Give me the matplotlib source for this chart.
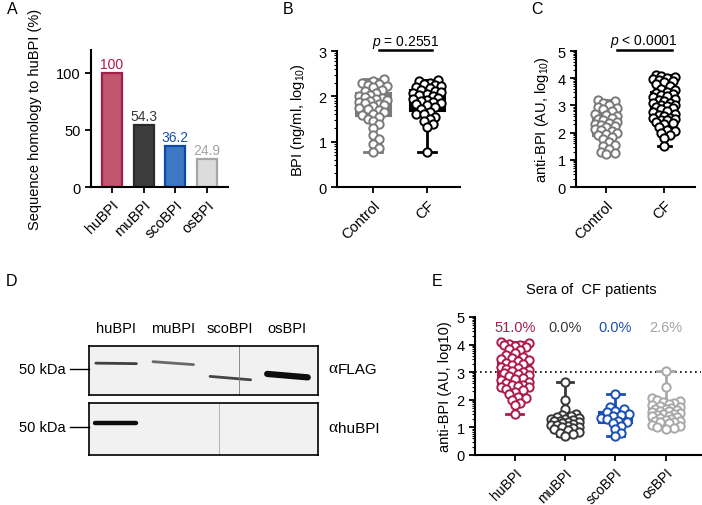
import numpy as np
import matplotlib
matplotlib.use('Agg')
import matplotlib.pyplot as plt
from matplotlib.ticker import FixedLocator

plt.rcParams['font.family'] = ['Liberation Sans', 'DejaVu Sans']
plt.rcParams['font.size'] = 10
plt.rcParams['mathtext.fontset'] = 'custom'
plt.rcParams['mathtext.rm'] = 'Liberation Sans'
plt.rcParams['mathtext.it'] = 'Liberation Sans:italic'

# ---- data ----
bpi_names = ['huBPI', 'muBPI', 'scoBPI', 'osBPI']
homology = [100, 54.3, 36.2, 24.9]

groups_bc = ['Control', 'CF']
bpi_control = [2.38, 2.33, 2.3, 2.27, 2.25, 2.22, 2.2, 2.15, 2.12, 2.08, 2.03, 2.0, 1.98,
               1.96, 1.94, 1.92, 1.9, 1.88, 1.85, 1.82, 1.8, 1.78, 1.75, 1.72, 1.7, 1.65,
               1.62, 1.58, 1.55, 1.5, 1.45, 1.4, 1.3, 1.15, 1.05, 0.95, 0.85, 0.78]
bpi_cf = [2.37, 2.33, 2.3, 2.28, 2.25, 2.22, 2.2, 2.18, 2.15, 2.12, 2.1, 2.08, 2.05,
          2.02, 2.0, 1.97, 1.95, 1.92, 1.9, 1.88, 1.85, 1.82, 1.8, 1.76, 1.72, 1.66,
          1.62, 1.6, 1.55, 1.5, 1.45, 1.38, 1.32, 0.78]
p_b = '= 0.2551'

anti_control = [3.2, 3.15, 3.1, 3.0, 2.95, 2.9, 2.85, 2.8, 2.7, 2.65, 2.6, 2.55, 2.5,
                2.45, 2.4, 2.35, 2.3, 2.28, 2.25, 2.2, 2.15, 2.1, 2.05, 2.0, 1.95, 1.9,
                1.85, 1.75, 1.65, 1.55, 1.5, 1.4, 1.3, 1.25, 1.2]
anti_cf = [4.1, 4.07, 4.03, 4.0, 3.98, 3.95, 3.9, 3.85, 3.8, 3.7, 3.62, 3.55,
           3.5, 3.47, 3.43, 3.4, 3.35, 3.3, 3.25, 3.2, 3.15, 3.1, 3.07, 3.03, 3.01,
           2.98, 2.95, 2.9, 2.85, 2.8, 2.75, 2.7, 2.65, 2.6, 2.55, 2.52, 2.5, 2.48,
           2.45, 2.4, 2.35, 2.3, 2.2, 2.1, 2.05, 2.0, 1.9, 1.8, 1.5]
p_c = '< 0.0001'

# panel E: sera of CF patients against each BPI
e_hu = anti_cf
e_mu = [2.65, 2.0, 1.65, 1.5, 1.45, 1.4, 1.38, 1.35, 1.32, 1.3, 1.28, 1.25, 1.22, 1.2,
        1.18, 1.15, 1.13, 1.1, 1.08, 1.05, 1.03, 1.0, 0.98, 0.95, 0.9, 0.85, 0.8, 0.75, 0.7]
e_sco = [2.2, 1.75, 1.65, 1.6, 1.55, 1.5, 1.45, 1.4, 1.35, 1.3, 1.25, 1.2, 1.15, 1.05,
         0.95, 0.8, 0.7]
e_os = [3.05, 2.45, 2.05, 2.0, 1.95, 1.92, 1.9, 1.85, 1.8, 1.78, 1.75, 1.7, 1.68, 1.65,
        1.62, 1.6, 1.58, 1.55, 1.52, 1.5, 1.48, 1.45, 1.42, 1.4, 1.38, 1.35, 1.3, 1.28,
        1.25, 1.22, 1.2, 1.18, 1.15, 1.1, 1.05, 1.0, 0.98, 0.95]
cutoff = 3

# panel D: western blot bands (depth from top of blot, 0..1)
flag_band_depth = [0.35, 0.32, 0.62, 0.57]
flag_band_drop = [0.01, 0.06, 0.07, 0.07]
flag_band_dark = [0.78, 0.6, 0.75, 1.0]
hubpi_band_depth = [0.38, None, None, None]
hubpi_band_dark = [1.0, 0, 0, 0]

# ---- style ----
col_hu = '#ad1a4d'
col_mu = '#383838'
col_sco = '#1a4fb5'
col_os = '#a8a8a8'
bar_fill = ['#c2566f', '#3c3c3c', '#3d78c2', '#dcdcdc']
bar_edge = ['#a51e4a', '#2b2b2b', '#0d4aa8', '#a6a6a6']
txt_col = [col_hu, col_mu, col_sco, '#a3a3a3']
e_col = [col_hu, col_mu, col_sco, col_os]

W, H = 702, 506
fig = plt.figure(figsize=(W / 100, H / 100), dpi=100)


def px_axes(x0, y0, x1, y1):
    return fig.add_axes([x0 / W, 1 - y1 / H, (x1 - x0) / W, (y1 - y0) / H])


def style(ax, log_minor=None):
    for s in ['top', 'right']:
        ax.spines[s].set_visible(False)
    for s in ['left', 'bottom']:
        ax.spines[s].set_linewidth(1.5)
    ax.tick_params(direction='out', length=4, width=1.3, labelsize=10.5)
    if log_minor:
        minors = [n + np.log10(k) for n in range(log_minor) for k in range(2, 10)]
        ax.yaxis.set_minor_locator(FixedLocator(minors))
        ax.tick_params(axis='y', which='minor', length=2, width=0.8)


def swarm_offsets(vals, xs, ys, diam, half_w):
    # spread points sideways (in pixels) so they overlap only partly
    vals = np.asarray(vals)
    offs = np.zeros(len(vals))
    placed = []
    step = diam * 0.33
    cands = [0.0]
    k = 1
    while k * step <= half_w:
        cands += [k * step, -k * step]
        k += 1
    for i in np.argsort(vals):
        y = vals[i] * ys
        best, best_d = 0.0, -1
        for c in cands:
            d = min([np.hypot(c - px, y - py) for px, py in placed], default=1e9)
            if d >= diam * 0.7:
                best = c
                break
            if d > best_d:
                best, best_d = c, d
        placed.append((best, y))
        offs[i] = best / xs
    return offs


def box_scatter(ax, pos, vals, color, width, xs, ys):
    ax.boxplot([vals], positions=[pos], widths=width, whis=(0, 100), patch_artist=True,
               showfliers=False, capwidths=width * 0.5, manage_ticks=False,
               boxprops=dict(facecolor=color, edgecolor=color, lw=1.5),
               whiskerprops=dict(color=color, lw=2),
               capprops=dict(color=color, lw=2),
               medianprops=dict(color=color, lw=1.5))
    offs = swarm_offsets(vals, xs, ys, 8.5, width * xs / 2 - 1)
    ax.scatter(pos + offs, vals, s=36, facecolor='white', edgecolor=color,
               linewidth=1.4, zorder=3, clip_on=False)


def rot_labels(ax, labels, size=10.5):
    ax.set_xticks(range(len(labels)))
    ax.set_xticklabels(labels, rotation=45, ha='right', rotation_mode='anchor',
                       fontsize=size)


# ---- A ----
axA = px_axes(91, 51, 228, 188)
x = np.arange(len(bpi_names))
axA.bar(x, homology, width=0.63, color=bar_fill, edgecolor=bar_edge, linewidth=1.6)
for i, v in enumerate(homology):
    axA.text(i, v + 1.5, f'{v:g}', ha='center', va='bottom', color=txt_col[i], fontsize=10)
axA.set_ylim(0, 120)
axA.set_xlim(-0.66, 3.66)
axA.set_yticks([0, 50, 100])
style(axA)
rot_labels(axA, bpi_names)
axA.set_ylabel('Sequence homology to huBPI (%)', fontsize=10.5)
axA.yaxis.set_label_coords(-0.36, 0.5)

# ---- B ----
axB = px_axes(337, 52, 460, 188)
box_scatter(axB, 0, bpi_control, '#7a7a7a', 0.65, 54, 45.3)
box_scatter(axB, 1, bpi_cf, 'black', 0.65, 54, 45.3)
axB.set_ylim(0, 3)
axB.set_xlim(-0.67, 1.61)
axB.set_yticks([0, 1, 2, 3])
style(axB, log_minor=3)
rot_labels(axB, groups_bc)
axB.set_ylabel('BPI (ng/ml, log$_{10}$)', fontsize=10.5)
axB.yaxis.set_label_coords(-0.24, 0.5)
axB.plot([0.1, 1.1], [3.02, 3.02], color='black', lw=1.8, clip_on=False)
axB.text(0.6, 3.22, r'$\it{p}$ ' + p_b, ha='center', va='center', fontsize=10)

# ---- C ----
axC = px_axes(576, 52, 695, 188)
box_scatter(axC, 0, anti_control, '#7a7a7a', 0.45, 58, 27.2)
box_scatter(axC, 1, anti_cf, 'black', 0.45, 58, 27.2)
axC.set_ylim(0, 5)
axC.set_xlim(-0.52, 1.53)
axC.set_yticks(range(6))
style(axC, log_minor=5)
rot_labels(axC, groups_bc)
axC.set_ylabel('anti-BPI (AU, log$_{10}$)', fontsize=10.5)
axC.yaxis.set_label_coords(-0.21, 0.5)
axC.plot([0.18, 1.13], [5.04, 5.04], color='black', lw=1.8, clip_on=False)
axC.text(0.65, 5.37, r'$\it{p}$ ' + p_c, ha='center', va='center', fontsize=10)

# ---- D ----
blot_top = px_axes(89, 347, 318, 396)
blot_bot = px_axes(89, 404, 318, 456)
for ax in (blot_top, blot_bot):
    ax.set_xlim(-0.47, 3.54)
    ax.set_ylim(1, 0)
    ax.set_facecolor('#f1f1f1')
    ax.set_xticks([])
    ax.set_yticks([])
    for s in ax.spines.values():
        s.set_linewidth(1.2)

for i, (d, drop, dk) in enumerate(zip(flag_band_depth, flag_band_drop, flag_band_dark)):
    lw = 4.5 if dk > 0.9 else 2.0
    blot_top.plot([i - 0.35, i + 0.36], [d, d + drop], color=str(round(0.95 - 0.9 * dk, 2)),
                  lw=lw, solid_capstyle='round')
for i, (d, dk) in enumerate(zip(hubpi_band_depth, hubpi_band_dark)):
    if d is not None:
        blot_bot.plot([i - 0.36, i + 0.36], [d, d], color=str(round(0.95 - 0.9 * dk, 2)),
                      lw=3.2, solid_capstyle='round')
blot_top.axvline(2.16, color='#7a7a7a', lw=0.6)
blot_bot.axvline(1.81, color='#9a9a9a', lw=0.5)

for i, name in enumerate(bpi_names):
    blot_top.text(i, 1.37, name, transform=blot_top.get_xaxis_transform(),
                  ha='center', va='center', fontsize=10.5)
for ax, d, lab in ((blot_top, 0.47, 'FLAG'), (blot_bot, 0.46, 'huBPI')):
    ax.plot([-0.083, 0], [1 - d, 1 - d], color='black', lw=1.0,
            transform=ax.transAxes, clip_on=False)
    ax.text(-0.1, 1 - d, '50 kDa', transform=ax.transAxes, ha='right', va='center',
            fontsize=10.5)
    alpha = ax.text(1.044, 0.47, 'α', transform=ax.transAxes, ha='left',
                    va='baseline', fontsize=12.5, family='Liberation Serif')
    ax.annotate(lab, xy=(1, 0), xycoords=alpha, xytext=(0.5, 0),
                textcoords='offset points', ha='left', va='bottom', fontsize=11)

# ---- E ----
axE = px_axes(475, 318, 701, 456)
e_sets = [e_hu, e_mu, e_sco, e_os]
for i, vals in enumerate(e_sets):
    box_scatter(axE, i, vals, e_col[i], 0.66, 50.5, 27.6)
    pct = 100 * np.mean(np.array(vals) > cutoff)
    axE.text(i, 4.65, f'{pct:.1f}%', ha='center', va='center', color=txt_col[i],
             fontsize=10.5)
axE.axhline(cutoff, color='black', ls=(0, (1, 2)), lw=1.2, zorder=1)
axE.set_ylim(0, 5)
axE.set_xlim(-0.79, 3.7)
axE.set_yticks(range(6))
style(axE, log_minor=5)
rot_labels(axE, bpi_names, size=10)
axE.set_ylabel('anti-BPI (AU, log10)', fontsize=10.5)
axE.yaxis.set_label_coords(-0.1, 0.5)
axE.text(0.515, 1.2, 'Sera of  CF patients', transform=axE.transAxes, ha='center',
         va='center', fontsize=10.5)

# ---- panel letters ----
for lab, px, py in (('A', 7, 9), ('B', 283, 9), ('C', 531, 9), ('D', 6, 281), ('E', 432, 281)):
    fig.text(px / W, 1 - py / H, lab, fontsize=11.5, ha='left', va='center')

fig.savefig('out.png', dpi=100)
